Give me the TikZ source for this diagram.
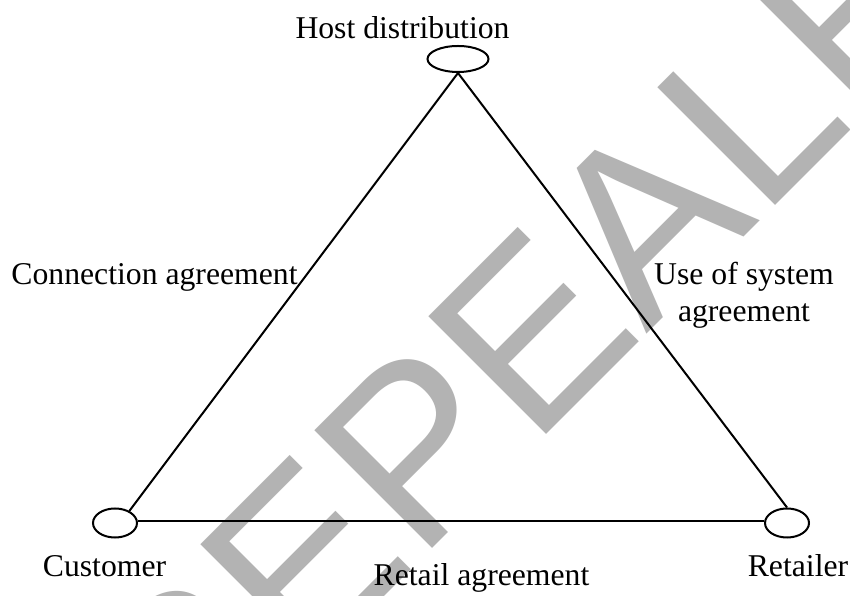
\documentclass[tikz,border=0pt]{standalone}
\usepackage{fontspec}
\setmainfont{Liberation Serif}
\newfontfamily\wmfont{Liberation Sans}
\usetikzlibrary{shapes.geometric}
\definecolor{wmgray}{RGB}{179,179,179}
\begin{document}
\begin{tikzpicture}[x=1pt,y=1pt,
  party/.style={ellipse,draw=black,line width=2pt,fill=none,inner sep=0pt},
  link/.style={draw=black,line width=2pt},
  lbl/.style={anchor=base,inner sep=0pt,font=\fontsize{31.7}{37}\selectfont,align=center},
  wm/.style={anchor=base,inner sep=0pt,text=wmgray,font=\wmfont\fontsize{242}{242}\selectfont,rotate=45}]
\useasboundingbox (0,0) rectangle (850,596);
\clip (0,0) rectangle (850,596);
\fill[white] (0,0) rectangle (850,596);
% watermark
\node[wm] (wmark) at (637.5,252.5) {REPEALED};
% parties
\node[party,minimum width=61pt,minimum height=26pt] (host) at (458,537) {};
\node[party,minimum width=44pt,minimum height=29pt] (cust) at (115,73) {};
\node[party,minimum width=44pt,minimum height=29pt] (ret) at (787,73) {};
% connectors
\draw[link] (host.south) -- (cust.40);
\draw[link] (host.south) -- (ret.north);
\draw[link] (cust.5) -- (ret.175);
% labels
\node[lbl] (thost) at (402.5,557) {Host distribution};
\node[lbl] (tconn) at (154.5,311) {Connection agreement};
\node[lbl] (tuse) at (744,274) {Use of system\\agreement};
\node[lbl] (tcust) at (104.5,19) {Customer};
\node[lbl] (tretail) at (481.5,10) {Retail agreement};
\node[lbl] (tret) at (798,19) {Retailer};
\end{tikzpicture}
\end{document}
